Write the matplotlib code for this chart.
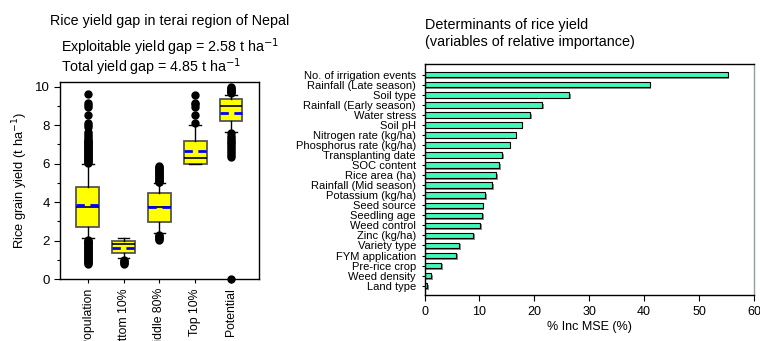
import matplotlib
matplotlib.use("Agg")
import matplotlib.pyplot as plt
import matplotlib.patheffects as pe

plt.rcParams['font.family'] = ['Liberation Sans', 'DejaVu Sans']

# ---------------- Box plot data ----------------
groups = ["Population", "Bottom 10%", "Middle 80%", "Top 10%", "Potential"]
q1 = [2.70, 1.33, 2.98, 5.96, 8.20]
q3 = [4.77, 1.99, 4.47, 7.16, 9.34]
medians = [3.74, 1.82, 3.74, 6.27, 9.00]
means = [3.86, 1.61, 3.76, 6.65, 8.65]
whisk_lo = [2.11, 1.07, 2.37, 5.96, 7.66]
whisk_hi = [5.96, 2.11, 4.97, 7.99, 9.58]
fliers_pop = [0.80, 0.85, 0.90, 0.95, 1.00, 1.05, 1.10, 1.15, 1.20, 1.25, 1.30, 1.35,
              1.40, 1.45, 1.50, 1.55, 1.60, 1.65, 1.70, 1.75, 1.80, 1.85, 1.90, 1.95,
              2.00, 2.05,
              6.05, 6.10, 6.15, 6.20, 6.25, 6.30, 6.35, 6.40, 6.45, 6.50, 6.55, 6.60,
              6.65, 6.70, 6.75, 6.80, 6.85, 6.90, 6.95, 7.00, 7.05, 7.10, 7.15, 7.20,
              7.25, 7.35, 7.45, 7.55, 7.65, 7.90, 8.00, 8.10, 8.55, 8.95, 9.05, 9.15, 9.60]
fliers_bot = [0.80, 0.85, 0.90, 0.95, 1.00]
fliers_mid = [2.03, 2.08, 2.13, 2.18, 2.23, 2.28,
              5.02, 5.07, 5.12, 5.17, 5.22, 5.27, 5.32, 5.37, 5.42, 5.47, 5.52, 5.57,
              5.62, 5.67, 5.72, 5.77, 5.82, 5.87]
fliers_top = [8.13, 8.54, 8.96, 9.10, 9.17, 9.58]
fliers_pot = [0.00, 6.36, 6.45, 6.55, 6.65, 6.75, 6.85, 6.95, 7.05, 7.15, 7.25, 7.35,
              7.45, 7.57, 9.65, 9.70, 9.75, 9.80, 9.85, 9.90, 9.95, 10.00]
fliers = [fliers_pop, fliers_bot, fliers_mid, fliers_top, fliers_pot]

# ---------------- Bar chart data ----------------
variables = ["No. of irrigation events", "Rainfall (Late season)", "Soil type",
             "Rainfall (Early season)", "Water stress", "Soil pH",
             "Nitrogen rate (kg/ha)", "Phosphorus rate (kg/ha)", "Transplanting date",
             "SOC content", "Rice area (ha)", "Rainfall (Mid season)",
             "Potassium (kg/ha)", "Seed source", "Seedling age", "Weed control",
             "Zinc (kg/ha)", "Variety type", "FYM application", "Pre-rice crop",
             "Weed density", "Land type"]
inc_mse = [55.2, 41.0, 26.4, 21.4, 19.2, 17.7, 16.6, 15.5, 14.1, 13.6, 13.0, 12.3,
           11.1, 10.6, 10.5, 10.1, 8.9, 6.3, 5.8, 3.0, 1.2, 0.5]

W, H = 760, 341
fig = plt.figure(figsize=(W / 100, H / 100), dpi=100)

# ---------------- Left: box plot ----------------
ax1 = fig.add_axes([60.3 / W, (H - 279) / H, (259 - 60.3) / W, (279 - 81.7) / H])
stats = []
for i, g in enumerate(groups):
    stats.append(dict(label=g, q1=q1[i], q3=q3[i], med=medians[i], mean=means[i],
                      whislo=whisk_lo[i], whishi=whisk_hi[i], fliers=fliers[i]))
positions = list(range(1, len(groups) + 1))
bp = ax1.bxp(stats, positions=positions, widths=0.62, patch_artist=True,
             showmeans=True, meanline=True, showfliers=True,
             boxprops=dict(facecolor="#ffff00", edgecolor="#555555", linewidth=1.3),
             medianprops=dict(color="black", linewidth=1.2),
             meanprops=dict(color="#0000ff", linewidth=2.0, linestyle=(0, (3, 2))),
             whiskerprops=dict(color="black", linewidth=1.0),
             capprops=dict(color="black", linewidth=1.0),
             capwidths=0.33,
             flierprops=dict(marker="o", markerfacecolor="black", markeredgecolor="black",
                             markersize=5))
for f in bp["fliers"]:
    f.set_clip_on(False)
ax1.set_xlim(0.24, 5.77)
ax1.set_ylim(0, 10.26)
ax1.set_yticks([0, 2, 4, 6, 8, 10])
ax1.set_yticks([1, 3, 5, 7, 9], minor=True)
ax1.set_xticks(positions)
ax1.set_xticklabels(groups, rotation=90, fontsize=8.8, va="top")
ax1.tick_params(axis="y", labelsize=9.5, direction="out", length=4, width=0.8)
ax1.tick_params(axis="y", which="minor", direction="out", length=2.5, width=0.8)
ax1.tick_params(axis="x", direction="out", length=3, width=0.8)
ax1.set_ylabel("Rice grain yield (t ha$^{-1}$)", fontsize=9.3)
ax1.yaxis.set_label_coords(-0.152, 0.5)
for s in ax1.spines.values():
    s.set_linewidth(1.0)

fig.text(50 / W, 1 - 21 / H, "Rice yield gap in terai region of Nepal", fontsize=10.3,
         ha="left", va="center")
fig.text(61 / W, 1 - 47 / H, "Exploitable yield gap = 2.58 t ha$^{-1}$", fontsize=10.3,
         ha="left", va="center")
fig.text(61 / W, 1 - 67 / H, "Total yield gap = 4.85 t ha$^{-1}$", fontsize=10.3,
         ha="left", va="center")

# ---------------- Right: bar chart ----------------
ax2 = fig.add_axes([424.5 / W, (H - 295) / H, (754 - 424.5) / W, (295 - 64) / H])
n = len(variables)
ypos = [n - 1 - i for i in range(n)]
bars = ax2.barh(ypos, inc_mse, height=0.55, color="#40f8b8", edgecolor="black",
                linewidth=0.8)
for b in bars:
    b.set_path_effects([pe.SimplePatchShadow(offset=(1.2, -1.2), shadow_rgbFace="#808080",
                                             alpha=0.9), pe.Normal()])
ax2.set_xlim(0, 60)
ax2.set_ylim(-0.93, n - 1 + 1.06)
ax2.set_yticks(ypos)
ax2.set_yticklabels(variables, fontsize=8)
ax2.set_xticks([0, 10, 20, 30, 40, 50, 60])
ax2.tick_params(axis="x", labelsize=9, direction="out", length=4, width=0.8, pad=4)
ax2.tick_params(axis="y", direction="out", length=2.2, width=0.8, pad=4)
ax2.set_xlabel("% Inc MSE (%)", fontsize=9, labelpad=2)
ax2.spines["right"].set_color("#8fa0a0")
for s in ax2.spines.values():
    s.set_linewidth(1.0)

fig.text(425 / W, 1 - 25 / H, "Determinants of rice yield", fontsize=10.4,
         ha="left", va="center")
fig.text(425 / W, 1 - 42 / H, "(variables of relative importance)", fontsize=10.4,
         ha="left", va="center")

fig.savefig("out.png", dpi=100)
